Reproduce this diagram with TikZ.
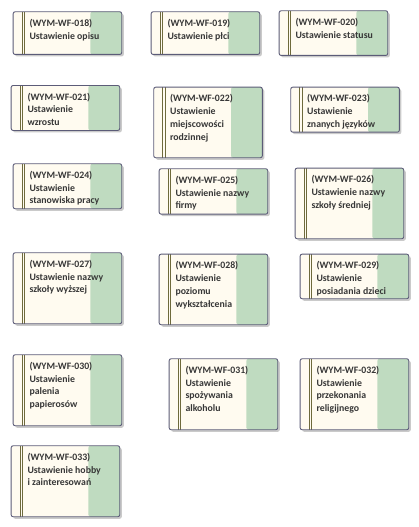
\documentclass[tikz,border=0pt]{standalone}
\usepackage{fontspec}
\setmainfont{Carlito}
\usetikzlibrary{shadows}
\definecolor{cream}{RGB}{255,251,240}
\definecolor{greenfill}{RGB}{191,219,192}
\definecolor{boxborder}{RGB}{92,92,120}
\definecolor{olivebar}{RGB}{110,106,60}
\definecolor{txt}{RGB}{55,55,55}
\tikzset{
  ucbox/.style={draw=boxborder, line width=0.9pt, rounded corners=2pt, fill=cream,
    minimum width=108.6pt, minimum height=#1, inner sep=0pt, anchor=north west,
    drop shadow={shadow xshift=2pt, shadow yshift=-2pt, fill=black!35, opacity=0.6},
    path picture={
      \fill[greenfill] ([xshift=-31.3pt]path picture bounding box.north east) rectangle (path picture bounding box.south east);
      \draw[olivebar, line width=0.9pt] ([xshift=9pt]path picture bounding box.north west) -- ([xshift=9pt]path picture bounding box.south west);
      \draw[olivebar, line width=0.9pt] ([xshift=11.5pt]path picture bounding box.north west) -- ([xshift=11.5pt]path picture bounding box.south west);
    }},
  lbl/.style={anchor=north west, inner sep=0pt, align=left, text=txt, font=\fontsize{9.8}{12.8}\selectfont\bfseries}
}
\newcommand{\ucase}[6]{% name, x, y, height, text
  \node[ucbox=#4pt] (b#1) at (#2,#3) {};
  \node[lbl] (t#1) at ([xshift=16.6pt,yshift=-7.6pt]b#1.north west) {#5};
}
\begin{document}
\begin{tikzpicture}[x=1pt,y=-1pt]
\useasboundingbox (0,0) rectangle (419,527);
\ucase{018}{12.7}{11.3}{42.7}{(WYM-WF-018)\\Ustawienie opisu}{}
\ucase{019}{150.7}{11.3}{42.7}{(WYM-WF-019)\\Ustawienie płci}{}
\ucase{020}{278.7}{10.3}{44.7}{(WYM-WF-020)\\Ustawienie statusu}{}
\ucase{021}{10.7}{85}{45}{(WYM-WF-021)\\Ustawienie\\wzrostu}{}
\ucase{022}{153.3}{86.7}{70.6}{(WYM-WF-022)\\Ustawienie\\miejscowości\\rodzinnej}{}
\ucase{023}{290.3}{86.7}{45}{(WYM-WF-023)\\Ustawienie\\znanych języków}{}
\ucase{024}{12.7}{163.3}{45}{(WYM-WF-024)\\Ustawienie\\stanowiska pracy}{}
\ucase{025}{158.7}{168.3}{45.4}{(WYM-WF-025)\\Ustawienie nazwy\\firmy}{}
\ucase{026}{294.7}{167.7}{70.6}{(WYM-WF-026)\\Ustawienie nazwy\\szkoły średniej}{}
\ucase{027}{12.7}{252.3}{71}{(WYM-WF-027)\\Ustawienie nazwy\\szkoły wyższej}{}
\ucase{028}{158.7}{253.7}{70.6}{(WYM-WF-028)\\Ustawienie\\poziomu\\wykształcenia}{}
\ucase{029}{299.7}{253.7}{44.6}{(WYM-WF-029)\\Ustawienie\\posiadania dzieci}{}
\ucase{030}{12.7}{354.3}{71}{(WYM-WF-030)\\Ustawienie\\palenia\\papierosów}{}
\ucase{031}{168.7}{358.3}{71}{(WYM-WF-031)\\Ustawienie\\spożywania\\alkoholu}{}
\ucase{032}{299.7}{358.3}{71}{(WYM-WF-032)\\Ustawienie\\przekonania\\religijnego}{}
\ucase{033}{10.7}{445.3}{71}{(WYM-WF-033)\\Ustawienie hobby\\i zainteresowań}{}
\end{tikzpicture}
\end{document}
